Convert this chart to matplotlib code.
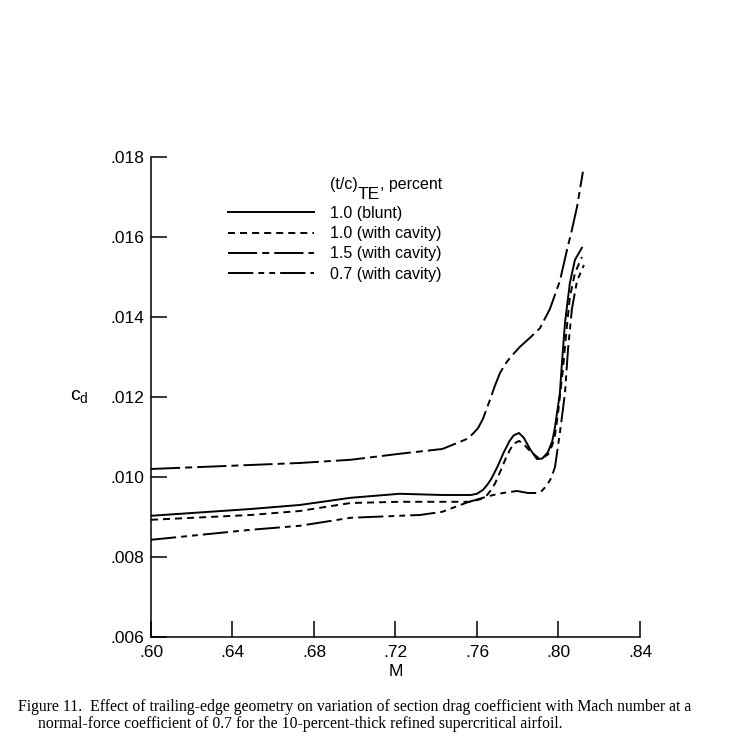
#!/usr/bin/env python3

"""Figure 11: section drag coefficient vs Mach number for trailing-edge geometries"""

import matplotlib as mpl
from matplotlib import pyplot as plt
from matplotlib.transforms import offset_copy

mpl.use("Agg")

# 1.0 percent, blunt
m_blunt = [0.600, 0.649, 0.673, 0.698, 0.722, 0.743, 0.757, 0.760, 0.763, 0.765,
           0.767, 0.770, 0.773, 0.776, 0.778, 0.7806, 0.783, 0.786, 0.7894, 0.792,
           0.7948, 0.797, 0.7983, 0.8007, 0.8017, 0.8032, 0.8056, 0.8081, 0.8115]
cd_blunt = [0.00903, 0.00920, 0.00930, 0.00948, 0.00958, 0.00955, 0.00955, 0.00958,
            0.00968, 0.00980, 0.00995, 0.01025, 0.01060, 0.01090, 0.01104, 0.01110,
            0.01098, 0.01070, 0.01045, 0.01046, 0.01062, 0.01090, 0.01125, 0.01210,
            0.01285, 0.01385, 0.01485, 0.01543, 0.01573]

# 1.0 percent, with cavity
m_cav10 = [0.600, 0.649, 0.673, 0.698, 0.722, 0.743, 0.757, 0.762, 0.765, 0.767,
           0.769, 0.7713, 0.774, 0.7762, 0.778, 0.7806, 0.783, 0.786, 0.790, 0.792,
           0.7948, 0.797, 0.7983, 0.7998, 0.8022, 0.8042, 0.8056, 0.8081, 0.8115]
cd_cav10 = [0.00893, 0.00905, 0.00915, 0.00935, 0.00938, 0.00938, 0.00938, 0.00945,
            0.00955, 0.00968, 0.00985, 0.01012, 0.01045, 0.01068, 0.01083, 0.01090,
            0.01082, 0.01065, 0.01048, 0.01047, 0.01056, 0.01080, 0.01105, 0.01160,
            0.01270, 0.01380, 0.01450, 0.01510, 0.01550]

# 1.5 percent, with cavity
m_cav15 = [0.600, 0.649, 0.673, 0.698, 0.722, 0.743, 0.7517, 0.755, 0.758, 0.7605,
           0.7629, 0.7664, 0.7688, 0.7713, 0.774, 0.7762, 0.781, 0.786, 0.7909,
           0.7958, 0.8007, 0.8042, 0.8066, 0.8091, 0.8120]
cd_cav15 = [0.01020, 0.01030, 0.01035, 0.01043, 0.01058, 0.01070, 0.01088, 0.01095,
            0.01108, 0.01122, 0.01145, 0.01193, 0.01228, 0.01260, 0.01283, 0.01298,
            0.01325, 0.01348, 0.01372, 0.01420, 0.01490, 0.01568, 0.01618, 0.01675,
            0.01763]

# 0.7 percent, with cavity
m_cav07 = [0.600, 0.649, 0.673, 0.698, 0.722, 0.732, 0.743, 0.7482, 0.755, 0.7629,
           0.768, 0.7728, 0.7796, 0.785, 0.7894, 0.792, 0.7944, 0.7965, 0.7983,
           0.8007, 0.8032, 0.8047, 0.8066, 0.8091, 0.8125]
cd_cav07 = [0.00843, 0.00868, 0.00878, 0.00898, 0.00903, 0.00905, 0.00913, 0.00923,
            0.00936, 0.00948, 0.00955, 0.00960, 0.00965, 0.00960, 0.00960, 0.00966,
            0.00980, 0.00998, 0.01025, 0.01110, 0.01210, 0.01320, 0.01420, 0.01490,
            0.01530]

labels = ["1.0 (blunt)", "1.0 (with cavity)", "1.5 (with cavity)", "0.7 (with cavity)"]
x_ticks = [0.60, 0.64, 0.68, 0.72, 0.76, 0.80, 0.84]
y_ticks = [0.006, 0.008, 0.010, 0.012, 0.014, 0.016, 0.018]

caption = ("Figure 11.  Effect of trailing-edge geometry on variation of section drag "
           "coefficient with Mach number at a\n"
           "     normal-force coefficient of 0.7 for the 10-percent-thick refined "
           "supercritical airfoil.")

mpl.rcParams["font.family"] = ["Liberation Sans", "DejaVu Sans"]
mpl.rcParams["mathtext.fontset"] = "custom"
mpl.rcParams["mathtext.rm"] = "Liberation Sans"
mpl.rcParams["mathtext.it"] = "Liberation Sans"

fig = plt.figure(figsize=(7.35, 7.55), dpi=100)
ax = fig.add_axes([0.2054, 0.1563, 0.6653, 0.6358])

lw = 1.4
styles = [
    dict(linestyle="-"),
    dict(dashes=(3.6, 2.6)),
    dict(dashes=(15.0, 2.6, 3.6, 2.6)),
    dict(dashes=(13.0, 2.6, 3.0, 2.6, 3.0, 2.6)),
]
series = [(m_blunt, cd_blunt), (m_cav10, cd_cav10), (m_cav15, cd_cav15), (m_cav07, cd_cav07)]
for (m, cd), lab, st in zip(series, labels, styles):
    ax.plot(m, cd, color="black", lw=lw, label=lab, solid_joinstyle="round", **st)

ax.set_xlim(0.60, 0.84)
ax.set_ylim(0.006, 0.018)
ax.set_xticks(x_ticks)
ax.set_xticklabels([f"{v:.2f}"[1:] for v in x_ticks])
ax.set_yticks(y_ticks)
ax.set_yticklabels([f"{v:.3f}"[1:] for v in y_ticks])
ax.tick_params(direction="in", length=11.5, width=1.1, labelsize=12.5, colors="black")
ax.tick_params(axis="x", pad=6)
ax.tick_params(axis="y", pad=5)
for side in ("top", "right"):
    ax.spines[side].set_visible(False)
for side in ("left", "bottom"):
    ax.spines[side].set_linewidth(1.1)

ax.set_xlabel("M", fontsize=12.5, labelpad=3)
ax.set_ylabel("c$_{\\mathrm{d}}$", fontsize=14, rotation=0, labelpad=22, va="center")

leg = ax.legend(loc="upper left", bbox_to_anchor=(0.157, 0.898), frameon=False,
                fontsize=11.5, handlelength=5.4, handletextpad=1.0, labelspacing=0.33,
                borderpad=0, borderaxespad=0)

# legend title: (t/c) with a full-size TE subscript, then ", percent"
fig.canvas.draw()
renderer = fig.canvas.get_renderer()
t1 = ax.text(0.366, 0.943, "(t/c)", transform=ax.transAxes, fontsize=11.5,
             va="center", ha="left")
w1 = t1.get_window_extent(renderer).width * 72 / fig.dpi
t2 = ax.text(0.366, 0.943, "TE", fontsize=12.5, va="center", ha="left",
             transform=offset_copy(ax.transAxes, fig, x=w1, y=-7, units="points"))
w2 = t2.get_window_extent(renderer).width * 72 / fig.dpi
ax.text(0.366, 0.943, ", percent", fontsize=11.5, va="center", ha="left",
        transform=offset_copy(ax.transAxes, fig, x=w1 + w2, y=0, units="points"))

fig.text(18 / 735, 1 - 699 / 755, caption, fontsize=11.3, va="top", ha="left",
         family=["Liberation Serif", "DejaVu Serif"], linespacing=1.1)

fig.savefig("out.png", dpi=100)
